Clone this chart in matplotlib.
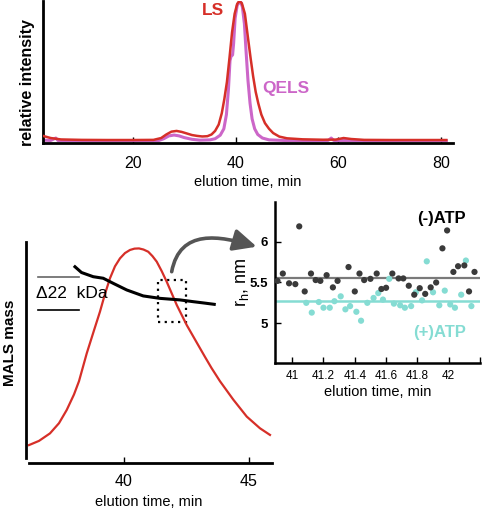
import matplotlib
matplotlib.use("Agg")
import matplotlib.pyplot as plt
from matplotlib.patches import FancyArrowPatch, Rectangle
from matplotlib.path import Path

plt.rcParams['font.family'] = ['Liberation Sans', 'DejaVu Sans']

# top panel: SEC traces (LS and QELS), relative intensity vs elution time
ls_time = [2.5, 4, 6, 10, 15, 20, 24, 25.5, 26.5, 27.5, 28.5, 29.5, 30.5, 31.5, 32.5,
           33.5, 34.5, 35.3, 36, 36.7, 37.3, 37.8, 38.3, 38.8, 39.3, 39.8, 40.3, 40.7,
           41.2, 41.8, 42.4, 42.9, 43.4, 43.9, 44.4, 45, 45.7, 46.5, 47.3, 48.5, 50,
           53, 57, 59.5, 61, 62.5, 65, 70, 75, 81]
ls_val = [0.05, 0.035, 0.025, 0.022, 0.021, 0.021, 0.022, 0.035, 0.06, 0.08, 0.085,
          0.078, 0.067, 0.056, 0.05, 0.046, 0.048, 0.06, 0.085, 0.13, 0.21, 0.31, 0.43,
          0.6, 0.78, 0.91, 0.98, 1.0, 0.985, 0.91, 0.74, 0.6, 0.47, 0.36, 0.28, 0.2,
          0.14, 0.1, 0.07, 0.045, 0.033, 0.026, 0.023, 0.024, 0.035, 0.028, 0.022,
          0.021, 0.021, 0.021]

qels_time = [2.5, 4, 4.7, 5.0, 5.4, 10, 20, 25, 26, 27, 28, 29, 30, 31.5, 33, 35, 36,
             37, 37.7, 38.2, 38.6, 38.9, 39.1, 39.4, 39.6, 39.9, 40.3, 40.9, 41.3,
             41.7, 42.0, 42.4, 42.8, 43.2, 43.7, 44.3, 45.2, 46.5, 50, 55, 58, 58.6,
             59.1, 65, 75, 81]
qels_val = [0.02, 0.018, 0.03, 0.035, 0.018, 0.016, 0.016, 0.017, 0.03, 0.05, 0.056,
            0.05, 0.038, 0.026, 0.02, 0.022, 0.03, 0.055, 0.1, 0.2, 0.38, 0.58, 0.61,
            0.62, 0.7, 0.88, 0.97, 1.0, 0.96, 0.84, 0.66, 0.44, 0.28, 0.17, 0.1, 0.06,
            0.035, 0.022, 0.017, 0.016, 0.018, 0.035, 0.018, 0.016, 0.016, 0.016]

# bottom-left panel: LS peak and MALS mass across the peak
peak_time = [36.2, 36.6, 37.04, 37.4, 37.71, 38.0, 38.2, 38.51, 38.8, 39.04, 39.24,
             39.44, 39.64, 39.84, 40.04, 40.24, 40.42, 40.6, 40.78, 40.97, 41.14,
             41.31, 41.51, 41.71, 42.11, 42.51, 42.91, 43.24, 43.5, 43.84, 44.37,
             44.91, 45.44, 45.84]
peak_val = [0.081, 0.1, 0.134, 0.18, 0.24, 0.31, 0.37, 0.496, 0.6, 0.685, 0.765,
            0.836, 0.89, 0.926, 0.95, 0.964, 0.97, 0.971, 0.966, 0.956, 0.936, 0.911,
            0.868, 0.82, 0.715, 0.624, 0.545, 0.48, 0.43, 0.37, 0.287, 0.21, 0.157,
            0.127]

mass_time = [38.04, 38.3, 38.77, 39.17, 39.57, 40.11, 40.77, 41.44, 42.24, 42.77,
             43.2, 43.61]
mass_val = [0.888, 0.862, 0.843, 0.836, 0.813, 0.783, 0.756, 0.745, 0.738, 0.73,
            0.724, 0.718]

# inset: hydrodynamic radius, -ATP and +ATP
minus_time = [40.906, 40.94, 40.98, 41.02, 41.045, 41.08, 41.12, 41.15, 41.18, 41.22,
              41.26, 41.29, 41.36, 41.40, 41.43, 41.46, 41.50, 41.54, 41.57, 41.60,
              41.64, 41.68, 41.71, 41.745, 41.78, 41.815, 41.85, 41.885, 41.92, 41.96,
              41.99, 42.03, 42.06, 42.10, 42.13, 42.165]
minus_rh = [5.52, 5.61, 5.49, 5.48, 6.19, 5.39, 5.61, 5.53, 5.52, 5.59, 5.44, 5.52,
            5.69, 5.39, 5.61, 5.53, 5.545, 5.61, 5.42, 5.435, 5.61, 5.55, 5.55, 5.46,
            5.35, 5.43, 5.36, 5.44, 5.50, 5.92, 6.14, 5.63, 5.70, 5.71, 5.39, 5.63]
plus_time = [41.09, 41.125, 41.17, 41.20, 41.24, 41.27, 41.31, 41.34, 41.37, 41.41,
             41.44, 41.48, 41.52, 41.55, 41.58, 41.62, 41.65, 41.69, 41.72, 41.76,
             41.79, 41.83, 41.86, 41.90, 41.94, 41.975, 42.01, 42.04, 42.08, 42.11,
             42.145]
plus_rh = [5.25, 5.13, 5.26, 5.19, 5.19, 5.27, 5.33, 5.17, 5.21, 5.14, 5.03, 5.25,
           5.31, 5.37, 5.29, 5.545, 5.24, 5.22, 5.19, 5.21, 5.38, 5.28, 5.76, 5.38,
           5.22, 5.40, 5.23, 5.19, 5.35, 5.77, 5.21]
minus_mean = 5.555
plus_mean = 5.275

red = '#d62f28'
orchid = '#cc66c8'
cyan = '#85dcd3'
dark = '#3a3a3a'

W, H = 482, 508
fig = plt.figure(figsize=(W / 100, H / 100), dpi=100)

# ---- top panel
ax_top = fig.add_axes([0.0892, 0.7185, 0.8506, 0.2795])
ax_top.plot(ls_time, ls_val, color=red, lw=1.8, zorder=3)
ax_top.plot(qels_time, qels_val, color=orchid, lw=2.2, zorder=2)
ax_top.set_xlim(2.5, 82.3)
ax_top.set_ylim(0, 1.0)
ax_top.set_xticks([20, 40, 60, 80])
ax_top.set_yticks([])
for side in ['top', 'right']:
    ax_top.spines[side].set_visible(False)
for side in ['left', 'bottom']:
    ax_top.spines[side].set_linewidth(2)
ax_top.tick_params(axis='x', direction='in', length=4, width=1, labelsize=11.5, pad=9.5)
ax_top.set_xlabel('elution time, min', fontsize=10.5, labelpad=3)
ax_top.text(35.5, 0.93, 'LS', color=red, fontsize=12.5, fontweight='bold',
            ha='center', va='center')
ax_top.text(49.8, 0.387, 'QELS', color=orchid, fontsize=12.5, fontweight='bold',
            ha='center', va='center')
fig.text(0.057, 0.837, 'relative intensity', rotation=90, fontsize=11.5,
         fontweight='bold', ha='center', va='center')

# ---- bottom-left panel
ax_mals = fig.add_axes([0.0539, 0.0886, 0.5104, 0.435])
ax_mals.plot(peak_time, peak_val, color=red, lw=1.6)
ax_mals.plot(mass_time, mass_val, color='black', lw=2.2)
ax_mals.set_xlim(36.08, 45.92)
ax_mals.set_ylim(0, 1.0)
ax_mals.set_xticks([40, 45])
ax_mals.set_yticks([])
for side in ['top', 'right']:
    ax_mals.spines[side].set_visible(False)
ax_mals.spines['left'].set_linewidth(2)
ax_mals.spines['bottom'].set_linewidth(2)
ax_mals.spines['left'].set_bounds(0.023, 1.0)
ax_mals.spines['bottom'].set_bounds(36.2, 45.92)
ax_mals.tick_params(axis='x', direction='in', length=4, width=1, labelsize=11.5, pad=8)
ax_mals.set_xlabel('elution time, min', fontsize=10.5, labelpad=4)
ax_mals.plot([36.56, 38.2], [0.843, 0.843], color='#666666', lw=1.2)
ax_mals.plot([36.56, 38.2], [0.692, 0.692], color='black', lw=1.2)
ax_mals.text(36.5, 0.765, '\u039422  kDa', fontsize=12.5, ha='left', va='center')
ax_mals.add_patch(Rectangle((41.36, 0.639), 1.12, 0.189, fill=False, ec='black',
                            lw=1.6, ls=(0, (1, 2))))
fig.text(0.021, 0.325, 'MALS mass', rotation=90, fontsize=11, fontweight='bold',
         ha='center', va='center')

# ---- inset: rh scatter
ax_rh = fig.add_axes([0.5705, 0.2854, 0.4253, 0.3170])
ax_rh.axhline(minus_mean, color='#7a7a7a', lw=1.6, zorder=1)
ax_rh.axhline(plus_mean, color=cyan, lw=1.8, zorder=1)
ax_rh.scatter(plus_time, plus_rh, s=20, color=cyan, edgecolors='none', zorder=2)
ax_rh.scatter(minus_time, minus_rh, s=20, color=dark, edgecolors='none', zorder=3)
ax_rh.set_xlim(40.89, 42.2)
ax_rh.set_ylim(4.51, 6.49)
ax_rh.set_xticks([41, 41.2, 41.4, 41.6, 41.8, 42, 42.2])
ax_rh.set_xticklabels(['41', '41.2', '41.4', '41.6', '41.8', '42', ''])
ax_rh.set_yticks([5, 5.5, 6])
ax_rh.set_yticklabels(['5', '5.5', '6'], fontweight='bold')
for side in ['top', 'right']:
    ax_rh.spines[side].set_visible(False)
ax_rh.spines['left'].set_linewidth(1.8)
ax_rh.spines['bottom'].set_linewidth(1.8)
ax_rh.tick_params(axis='x', direction='in', length=4, width=1, labelsize=8.5, pad=5)
ax_rh.tick_params(axis='y', direction='in', length=4, width=1, labelsize=9.5, pad=5)
ax_rh.set_xlabel('elution time, min', fontsize=10.5, labelpad=2)
ax_rh.set_ylabel('r$_\\mathregular{h}$, nm', fontsize=13, labelpad=-1)
ax_rh.text(41.955, 6.29, '(-)ATP', fontsize=12, fontweight='bold', color='black',
           ha='center', va='center')
ax_rh.text(41.94, 4.89, '(+)ATP', fontsize=12, fontweight='bold', color=cyan,
           ha='center', va='center')

# curved arrow from the dotted box to the inset (cubic curve, pixel positions)
arrow_px = [(171.7, 271.7), (180, 228), (220, 236), (256.7, 246.7)]
arrow_path = Path([(x / W, 1 - y / H) for x, y in arrow_px],
                  [Path.MOVETO, Path.CURVE4, Path.CURVE4, Path.CURVE4])
arrow = FancyArrowPatch(path=arrow_path, transform=fig.transFigure,
                        arrowstyle='-|>,head_length=0.7,head_width=0.33',
                        mutation_scale=20, color='#555555', lw=2.6)
fig.patches.append(arrow)

fig.savefig('out.png', dpi=100)
